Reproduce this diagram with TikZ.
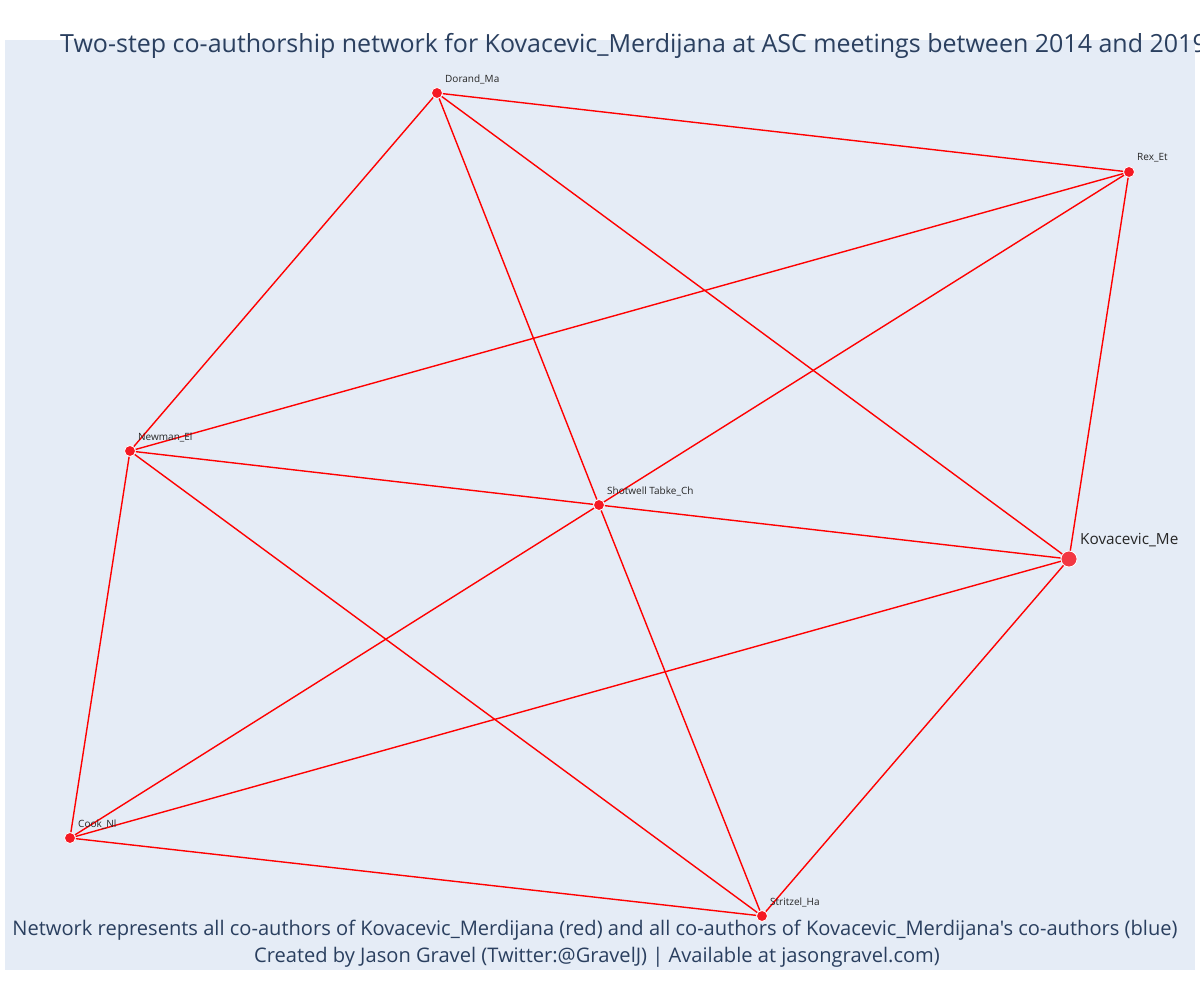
\documentclass[tikz,border=0pt]{standalone}
\usepackage{fontspec}
\setmainfont{Open Sans}[Ligatures=TeXOff]
\usepackage{tikz}
\definecolor{plotbg}{RGB}{229,236,246}
\definecolor{plottext}{RGB}{42,63,95}
\definecolor{edgered}{RGB}{255,0,0}
\definecolor{nodered}{RGB}{245,25,35}

\tikzset{
  author/.style={circle,fill=nodered,draw=white,line width=0.8pt,inner sep=0pt,minimum size=11pt},
  focal/.style={author,minimum size=16pt,fill opacity=0.85},
  coauth/.style={edgered,line width=1.4pt},
  namelbl/.style={anchor=west,inner sep=0pt,font=\fontsize{10}{12}\selectfont,text=black!85},
  caption/.style={inner sep=0pt,font=\fontsize{20.1}{24}\selectfont,text=plottext},
}

\begin{document}
\begin{tikzpicture}[x=1pt,y=-1pt]
  \useasboundingbox (0,0) rectangle (1200,1000);

  % Background
  \fill[plotbg] (5,40) rectangle (1195,970);

  % Title
  \node[anchor=base west,inner sep=0pt,font=\fontsize{25}{30}\selectfont,text=plottext] (title) at (60,53)
    {Two-step co-authorship network for Kovacevic\_Merdijana at ASC meetings between 2014 and 2019};

  % Authors
  \node[author] (dorand) at (437,93) {};
  \node[author] (rex) at (1129,172) {};
  \node[author] (newman) at (130,451) {};
  \node[author] (shotwell) at (599,505) {};
  \node[focal] (kovacevic) at (1069,559) {};
  \node[author] (cook) at (70,838) {};
  \node[author] (stritzel) at (762,916) {};

  % Co-authorship links
  \draw[coauth] (dorand) -- (rex);
  \draw[coauth] (dorand) -- (newman);
  \draw[coauth] (dorand) -- (shotwell);
  \draw[coauth] (dorand) -- (kovacevic);
  \draw[coauth] (rex) -- (newman);
  \draw[coauth] (rex) -- (shotwell);
  \draw[coauth] (rex) -- (kovacevic);
  \draw[coauth] (newman) -- (shotwell);
  \draw[coauth] (newman) -- (cook);
  \draw[coauth] (newman) -- (stritzel);
  \draw[coauth] (shotwell) -- (kovacevic);
  \draw[coauth] (shotwell) -- (cook);
  \draw[coauth] (shotwell) -- (stritzel);
  \draw[coauth] (kovacevic) -- (cook);
  \draw[coauth] (kovacevic) -- (stritzel);
  \draw[coauth] (cook) -- (stritzel);

  % Names
  \node[namelbl] (dorandname) at ([shift={(8,-14)}]dorand.center) {Dorand\_Ma};
  \node[namelbl] (rexname) at ([shift={(8,-14)}]rex.center) {Rex\_Et};
  \node[namelbl] (newmanname) at ([shift={(8,-14)}]newman.center) {Newman\_El};
  \node[namelbl] (shotwellname) at ([shift={(8,-14)}]shotwell.center) {Shotwell Tabke\_Ch};
  \node[namelbl,font=\fontsize{15.3}{18}\selectfont] (kovacevicname) at ([shift={(11,-19)}]kovacevic.center) {Kovacevic\_Me};
  \node[namelbl] (cookname) at ([shift={(8,-14)}]cook.center) {Cook\_Nl};
  \node[namelbl] (stritzelname) at ([shift={(8,-14)}]stritzel.center) {Stritzel\_Ha};

  % Caption
  \node[caption] (note) at (595,930) {Network represents all co-authors of Kovacevic\_Merdijana (red) and all co-authors of Kovacevic\_Merdijana's co-authors (blue)};
  \node[caption] (credit) at (597,957) {Created by Jason Gravel (Twitter:@GravelJ) | Available at jasongravel.com)};

\end{tikzpicture}
\end{document}
